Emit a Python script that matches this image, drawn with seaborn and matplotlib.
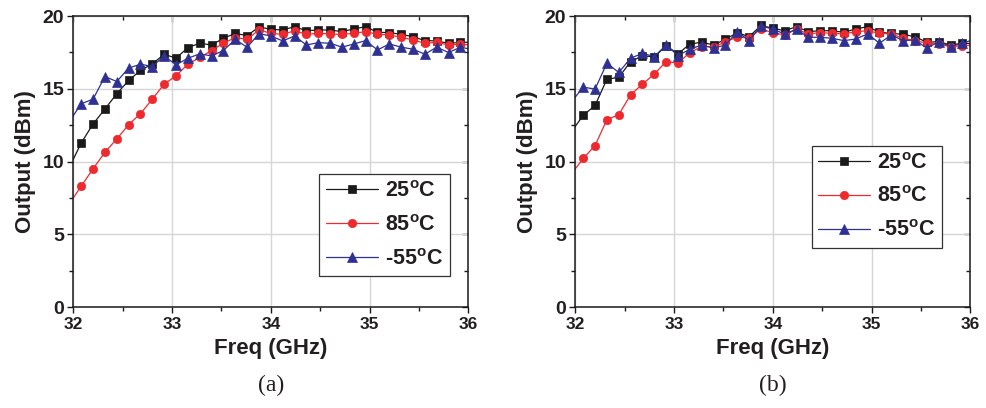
import numpy as np
import pandas as pd
import matplotlib
matplotlib.use("Agg")
import matplotlib.pyplot as plt
from matplotlib.ticker import MultipleLocator
import seaborn as sns

# frequency sweep (GHz); first and last points fall just outside the axis
freq = [31.96, 32.08, 32.20, 32.32, 32.44, 32.56, 32.68, 32.80, 32.92, 33.04,
        33.16, 33.28, 33.40, 33.52, 33.64, 33.76, 33.88, 34.00, 34.12, 34.24,
        34.36, 34.48, 34.60, 34.72, 34.84, 34.96, 35.08, 35.20, 35.32, 35.44,
        35.56, 35.68, 35.80, 35.92, 36.04]

# panel (a)
a_25 = [9.60, 11.28, 12.58, 13.61, 14.66, 15.57, 16.26, 16.71, 17.37, 17.10,
        17.83, 18.13, 18.01, 18.47, 18.81, 18.65, 19.25, 19.09, 19.04, 19.27,
        18.99, 19.04, 19.04, 18.93, 19.11, 19.27, 18.88, 18.86, 18.74, 18.58,
        18.31, 18.29, 18.12, 18.19, 18.20]
a_85 = [7.10, 8.31, 9.50, 10.64, 11.55, 12.53, 13.29, 14.29, 15.32, 15.89,
        16.69, 17.15, 17.63, 18.13, 18.52, 18.40, 19.05, 18.81, 18.74, 18.99,
        18.74, 18.81, 18.77, 18.74, 18.81, 18.93, 18.74, 18.70, 18.54, 18.36,
        18.13, 18.19, 18.01, 18.06, 18.00]
a_m55 = [12.75, 13.97, 14.29, 15.84, 15.50, 16.42, 16.69, 16.53, 17.26, 16.64,
         17.10, 17.40, 17.26, 17.63, 18.40, 17.85, 18.79, 18.63, 18.29, 18.63,
         18.01, 18.17, 18.13, 17.86, 18.08, 18.31, 17.67, 18.08, 17.86, 17.72,
         17.38, 17.86, 17.49, 17.86, 17.70]

# panel (b)
b_25 = [12.05, 13.17, 13.86, 15.66, 15.78, 16.87, 17.26, 17.20, 17.95, 17.40,
        18.08, 18.20, 18.01, 18.40, 18.86, 18.58, 19.35, 19.16, 18.99, 19.27,
        18.93, 18.99, 18.99, 18.88, 19.11, 19.27, 18.88, 18.81, 18.74, 18.58,
        18.19, 18.24, 18.01, 18.13, 18.10]
b_85 = [9.15, 10.21, 11.10, 12.88, 13.22, 14.59, 15.32, 16.01, 16.87, 16.76,
        17.49, 17.90, 17.90, 18.20, 18.58, 18.47, 19.12, 18.85, 18.70, 19.09,
        18.77, 18.86, 18.81, 18.77, 18.93, 18.99, 18.81, 18.77, 18.47, 18.31,
        18.13, 18.06, 17.90, 17.95, 18.00]
b_m55 = [14.10, 15.11, 14.98, 16.76, 16.12, 17.10, 17.44, 17.21, 18.01, 17.28,
         17.72, 18.01, 17.79, 18.01, 18.93, 18.31, 19.33, 19.09, 18.77, 19.09,
         18.54, 18.54, 18.47, 18.31, 18.42, 18.77, 18.13, 18.70, 18.31, 18.36,
         17.79, 18.24, 17.90, 18.13, 18.40]

temps = ["25$^{o}$C", "85$^{o}$C", "-55$^{o}$C"]
colors = ["#1a1a1a", "#ee2a2e", "#2e3192"]
markers = ["s", "o", "^"]
msizes = [5.5, 6, 6.5]

sns.set_style("ticks")
plt.rcParams["font.family"] = ["Liberation Sans", "DejaVu Sans"]
plt.rcParams["font.weight"] = "bold"
plt.rcParams["mathtext.fontset"] = "custom"
plt.rcParams["mathtext.rm"] = "Liberation Sans:bold"
plt.rcParams["mathtext.it"] = "Liberation Sans:bold"
plt.rcParams["mathtext.default"] = "rm"

txt = "#231f20"

fig = plt.figure(figsize=(9.87, 4.08), dpi=100)
ax_a = fig.add_axes([0.0743, 0.2475, 0.4002, 0.7132])
ax_b = fig.add_axes([0.5829, 0.2475, 0.4002, 0.7132])


def draw_panel(ax, series, legend_xy):
    for vals, lab, c, m, ms in zip(series, temps, colors, markers, msizes):
        df = pd.DataFrame({"freq": freq, "out": vals})
        sns.lineplot(data=df, x="freq", y="out", ax=ax, color=c, lw=0.9,
                     marker=m, markersize=ms, markeredgecolor=c,
                     markeredgewidth=0.5, markevery=slice(1, len(freq) - 1),
                     label=lab)
    ax.set_xlim(32, 36)
    ax.set_ylim(0, 20)
    ax.xaxis.set_major_locator(MultipleLocator(1))
    ax.xaxis.set_minor_locator(MultipleLocator(0.5))
    ax.yaxis.set_major_locator(MultipleLocator(5))
    ax.yaxis.set_minor_locator(MultipleLocator(2.5))
    ax.grid(True, which="major", color="#d6d6d6", lw=1.0)
    ax.set_axisbelow(True)
    for sp in ax.spines.values():
        sp.set_color("#1a1a1a")
        sp.set_linewidth(1.1)
    ax.tick_params(which="major", direction="out", length=4.5, width=1.0,
                   color="#1a1a1a")
    ax.tick_params(which="minor", direction="out", length=3, width=1.0,
                   color="#1a1a1a")
    ax.tick_params(axis="x", labelsize=12.5, labelcolor=txt, pad=3)
    ax.tick_params(axis="y", labelsize=14, labelcolor=txt, pad=2)
    for lab in ax.get_xticklabels() + ax.get_yticklabels():
        lab.set_fontweight("bold")

    # inward ticks on top and right
    top = ax.secondary_xaxis("top")
    top.xaxis.set_major_locator(MultipleLocator(1))
    top.xaxis.set_minor_locator(MultipleLocator(0.5))
    top.tick_params(which="both", direction="in", labeltop=False,
                    color="#1a1a1a", width=1.0)
    top.tick_params(which="major", length=4.5)
    top.tick_params(which="minor", length=3)
    right = ax.secondary_yaxis("right")
    right.yaxis.set_major_locator(MultipleLocator(5))
    right.yaxis.set_minor_locator(MultipleLocator(2.5))
    right.tick_params(which="both", direction="in", labelright=False,
                      color="#1a1a1a", width=1.0)
    right.tick_params(which="major", length=4.5)
    right.tick_params(which="minor", length=3)
    for sec in (top, right):
        for sp in sec.spines.values():
            sp.set_visible(False)

    ax.set_xlabel("Freq (GHz)", fontsize=16, fontweight="bold", color=txt,
                  labelpad=4)
    ax.set_ylabel("Output (dBm)", fontsize=16, fontweight="bold", color=txt,
                  labelpad=5)
    leg = ax.legend(loc="upper left", bbox_to_anchor=legend_xy,
                    borderaxespad=0, fontsize=15.5, frameon=True,
                    fancybox=False, framealpha=1, edgecolor="#333333",
                    handlelength=2.4, handletextpad=0.35, labelspacing=0.6,
                    borderpad=0.3)
    leg.get_frame().set_linewidth(0.9)
    for t in leg.get_texts():
        t.set_color(txt)


draw_panel(ax_a, [a_25, a_85, a_m55], (0.623, 0.456))
draw_panel(ax_b, [b_25, b_85, b_m55], (0.598, 0.553))

fig.text(0.2745, 0.03, "(a)", ha="center", va="bottom", fontsize=17,
         family=["Liberation Serif", "DejaVu Serif"], fontweight="normal",
         color=txt)
fig.text(0.7830, 0.03, "(b)", ha="center", va="bottom", fontsize=17,
         family=["Liberation Serif", "DejaVu Serif"], fontweight="normal",
         color=txt)

fig.savefig("out.png", dpi=100)
